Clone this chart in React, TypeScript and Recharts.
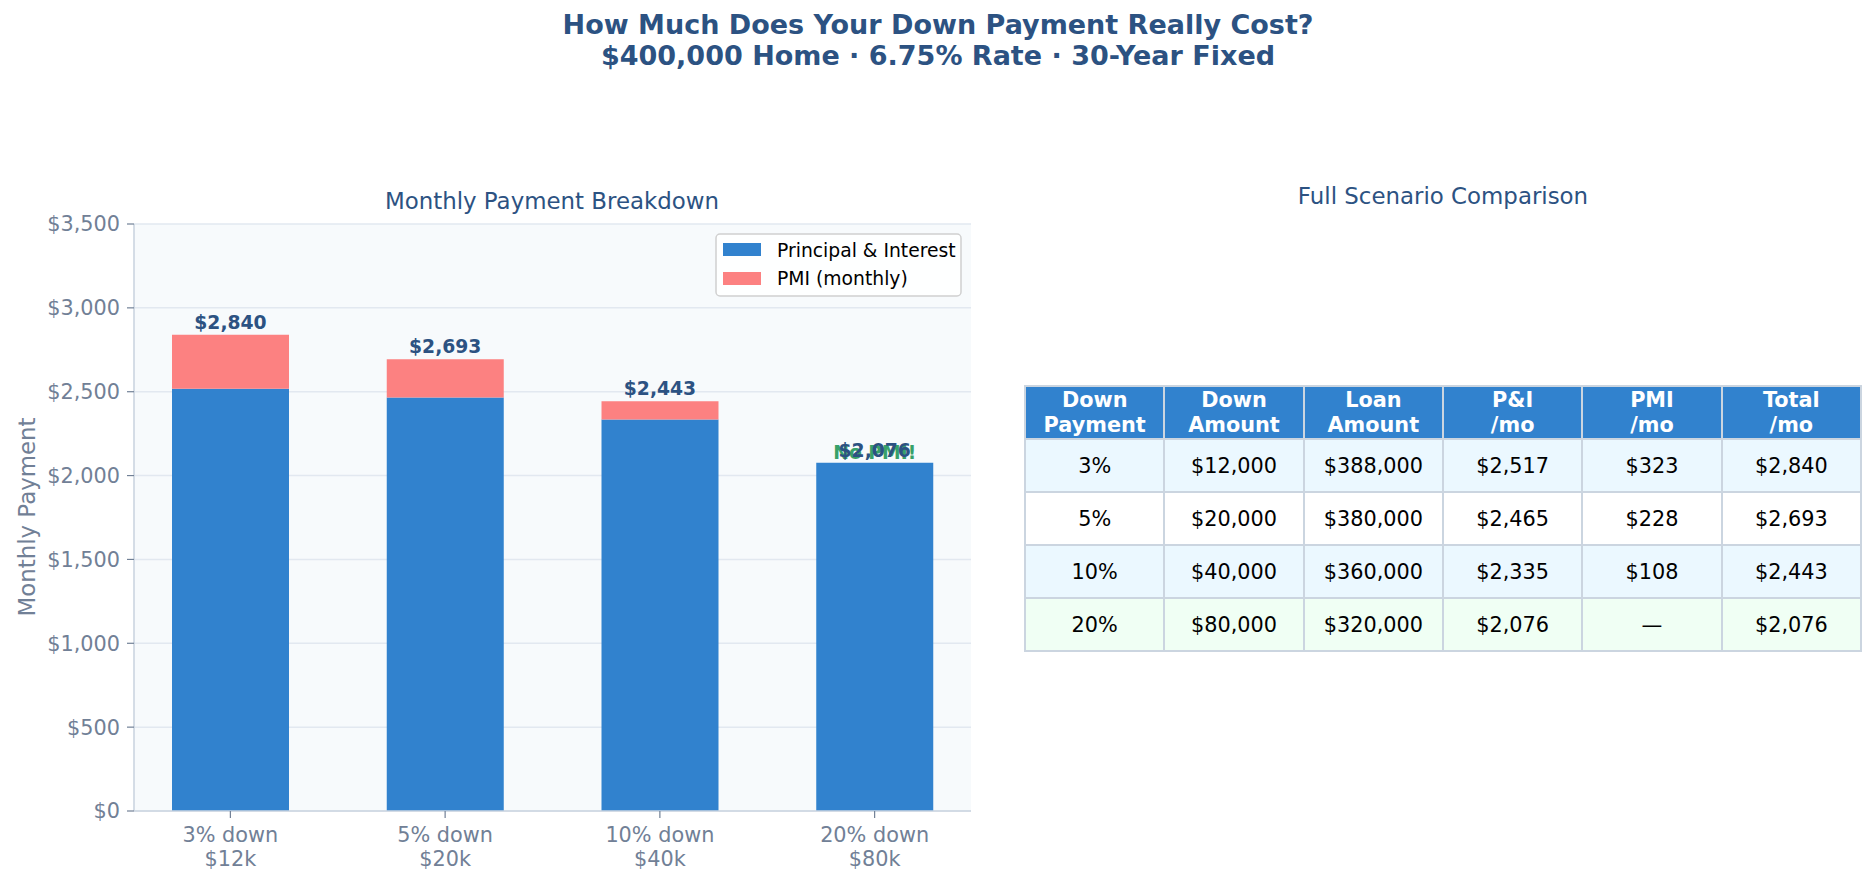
import React from 'react'
import { BarChart, Bar, XAxis, YAxis, CartesianGrid, LabelList } from 'recharts'

// $400k home, 6.75% rate, 30-year fixed
const downPcts = ['3%', '5%', '10%', '20%']
const downK = ['$12k', '$20k', '$40k', '$80k']
const piMonthly = [2517, 2465, 2335, 2076]
const pmiMonthly = [323, 228, 108, 0]
const totalMonthly = [2840, 2693, 2443, 2076]
const downAmounts = [12000, 20000, 40000, 80000]
const loanAmounts = [388000, 380000, 360000, 320000]
const yTicks = [0, 500, 1000, 1500, 2000, 2500, 3000, 3500]

const tableHeaders = [
  ['Down', 'Payment'],
  ['Down', 'Amount'],
  ['Loan', 'Amount'],
  ['P&I', '/mo'],
  ['PMI', '/mo'],
  ['Total', '/mo'],
]
const rowColors = ['#ebf8ff', '#ffffff', '#ebf8ff', '#f0fff4']

const FONT = '"DejaVu Sans", sans-serif'
const NAVY = '#2c5282'
const GREY = '#718096'

const money = (v: number) => '$' + v.toLocaleString('en-US')

const data = downPcts.map((p, i) => ({
  name: p + ' down',
  sub: downK[i],
  pi: piMonthly[i],
  pmi: pmiMonthly[i],
  total: totalMonthly[i],
}))

const XTick = (props: any) => {
  const { x, y, payload, index } = props
  return (
    <text textAnchor="middle" fill={GREY} fontSize={20.8} fontFamily={FONT}>
      <tspan x={x} y={y + 22}>{payload.value}</tspan>
      <tspan x={x} y={y + 46}>{downK[index]}</tspan>
    </text>
  )
}

// total label on top of the stack; `onPi` = drawn from the P&I bar (only when no PMI)
const makeTotalLabel = (onPi: boolean) => (props: any) => {
  const vb = props.viewBox || {}
  const x = props.x ?? vb.x
  const y = props.y ?? vb.y
  const width = props.width ?? vb.width
  let index = props.index
  if (index === undefined) index = totalMonthly.indexOf(props.value)
  const noPmi = pmiMonthly[index] === 0
  if (noPmi !== onPi) return null
  const cx = x + width / 2
  return (
    <g key={'lbl' + index}>
      {noPmi && (
        <text x={cx} y={y - 4} textAnchor="middle" fill="#38a169" fontSize={18.75} fontWeight="bold" fontFamily={FONT}>
          No PMI!
        </text>
      )}
      <text x={cx} y={y - 6} textAnchor="middle" fill={NAVY} fontSize={18.75} fontWeight="bold" fontFamily={FONT}>
        {money(totalMonthly[index])}
      </text>
    </g>
  )
}

const cellBorder = '2px solid #cbd5e0'

export default function App() {
  return (
    <div style={{ position: 'absolute', left: 0, top: 0, width: 1876, height: 884, background: '#fff', fontFamily: FONT, overflow: 'hidden' }}>
      <div style={{ position: 'absolute', left: 0, top: 0 }}>
        <BarChart width={1000} height={884} data={data} margin={{ top: 224, right: 29, left: 0, bottom: 13 }}>
          <CartesianGrid vertical={false} stroke="#e2e8f0" strokeWidth={1.5} fill="#f7fafc" />
          <XAxis
            dataKey="name"
            height={60}
            padding={{ left: -11, right: -11 }}
            axisLine={{ stroke: '#cbd5e0', strokeWidth: 1.6 }}
            tickLine={{ stroke: GREY, strokeWidth: 1.2 }}
            tickSize={7}
            tickMargin={2}
            tick={<XTick />}
            interval={0}
          />
          <YAxis
            width={134}
            domain={[0, 3500]}
            ticks={yTicks}
            tickFormatter={money}
            axisLine={{ stroke: '#cbd5e0', strokeWidth: 1.6 }}
            tickLine={{ stroke: GREY, strokeWidth: 1.2 }}
            tickSize={7}
            tickMargin={7}
            tick={{ fill: GREY, fontSize: 20.8, fontFamily: FONT }}
          />
          <Bar dataKey="pi" stackId="a" fill="#3182ce" barSize={117} isAnimationActive={false}>
            <LabelList dataKey="total" content={makeTotalLabel(true)} />
          </Bar>
          <Bar dataKey="pmi" stackId="a" fill="#fc8181" barSize={117} isAnimationActive={false}>
            <LabelList dataKey="total" content={makeTotalLabel(false)} />
          </Bar>
        </BarChart>
      </div>

      <svg width={1876} height={884} style={{ position: 'absolute', left: 0, top: 0, pointerEvents: 'none' }}>
        <g fontFamily={FONT} fill={NAVY}>
          <text x={938} y={34} textAnchor="middle" fontSize={27} fontWeight="bold">How Much Does Your Down Payment Really Cost?</text>
          <text x={938} y={65} textAnchor="middle" fontSize={27} fontWeight="bold">$400,000 Home · 6.75% Rate · 30-Year Fixed</text>
          <text x={552} y={209} textAnchor="middle" fontSize={22.9}>Monthly Payment Breakdown</text>
          <text x={1443} y={204} textAnchor="middle" fontSize={22.9}>Full Scenario Comparison</text>
        </g>
        <text x={35} y={517} transform="rotate(-90 35 517)" textAnchor="middle" fontSize={22.9} fill={GREY} fontFamily={FONT}>
          Monthly Payment
        </text>
        {/* legend */}
        <rect x={716} y={234} width={245} height={62} rx={4} fill="#ffffff" fillOpacity={0.85} stroke="#d0d0d0" strokeWidth={1.5} />
        <rect x={723} y={243} width={38} height={13} fill="#3182ce" />
        <rect x={723} y={272} width={38} height={13} fill="#fc8181" />
        <g fontFamily={FONT} fontSize={18.75} fill="#000">
          <text x={777} y={257}>Principal &amp; Interest</text>
          <text x={777} y={285}>PMI (monthly)</text>
        </g>
      </svg>

      <table
        style={{
          position: 'absolute',
          left: 1024,
          top: 385,
          width: 838,
          borderCollapse: 'collapse',
          tableLayout: 'fixed',
          fontFamily: FONT,
          fontSize: 20.8,
          textAlign: 'center',
        }}
      >
        <tbody>
          <tr style={{ height: 53 }}>
            {tableHeaders.map((h, i) => (
              <td key={i} style={{ background: '#3182ce', color: '#fff', fontWeight: 'bold', border: cellBorder, lineHeight: '25px', padding: 0 }}>
                {h[0]}
                <br />
                {h[1]}
              </td>
            ))}
          </tr>
          {downPcts.map((p, r) => {
            const cells = [
              p,
              money(downAmounts[r]),
              money(loanAmounts[r]),
              money(piMonthly[r]),
              pmiMonthly[r] ? money(pmiMonthly[r]) : '—',
              money(totalMonthly[r]),
            ]
            return (
              <tr key={r} style={{ height: 53 }}>
                {cells.map((c, i) => (
                  <td key={i} style={{ background: rowColors[r], color: '#000', border: cellBorder, padding: 0 }}>
                    {c}
                  </td>
                ))}
              </tr>
            )
          })}
        </tbody>
      </table>
    </div>
  )
}
